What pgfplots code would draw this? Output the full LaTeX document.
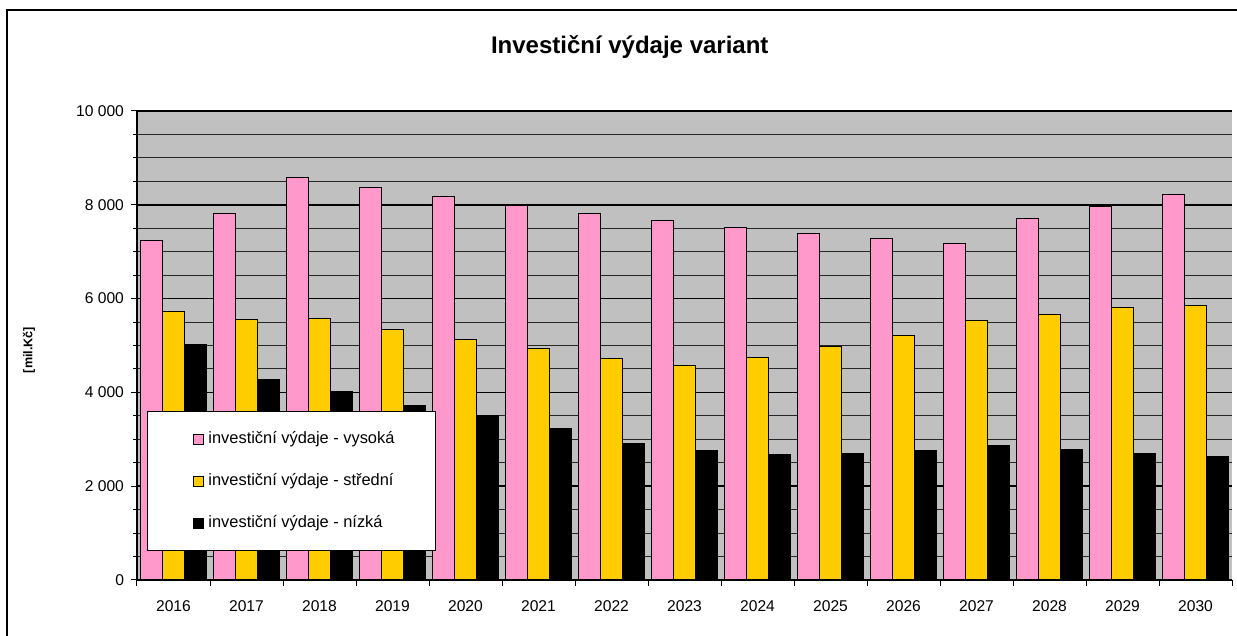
\documentclass[border=0pt]{standalone}
\usepackage{fontspec}
\setmainfont{Liberation Sans}
\usepackage{pgfplots}
\pgfplotsset{compat=1.18}
\usepackage{pgfplotstable}
\definecolor{bgg}{HTML}{C0C0C0}
\definecolor{pinkb}{HTML}{FF99CC}
\definecolor{yelb}{HTML}{FFCC00}
\pgfplotstableread{
x year vys str niz
0 2016 7230 5720 5020
1 2017 7825 5560 4270
2 2018 8590 5580 4010
3 2019 8370 5340 3720
4 2020 8170 5120 3500
5 2021 7980 4930 3240
6 2022 7810 4730 2900
7 2023 7660 4580 2765
8 2024 7520 4740 2685
9 2025 7390 4970 2705
10 2026 7275 5220 2770
11 2027 7170 5525 2865
12 2028 7700 5670 2775
13 2029 7960 5820 2695
14 2030 8225 5845 2625
}\datatable
\begin{document}
\begin{tikzpicture}
\useasboundingbox (-68.5pt,-28pt) rectangle (550pt,290pt);
\draw[black, line width=0.6pt] (-65pt,-60pt) rectangle (580pt,285pt);
\begin{axis}[
  at={(0,0)}, anchor=south west,
  scale only axis,
  width=547.5pt, height=234.5pt,
  xmin=-0.5, xmax=14.5,
  ymin=0, ymax=10000,
  scaled y ticks=false,
  axis lines*=left,
  axis line style={black, line width=0.6pt},
  axis background/.style={fill=bgg},
  xtick={-0.5,0.5,...,14.5},
  xticklabels={2016,2017,2018,2019,2020,2021,2022,2023,2024,2025,2026,2027,2028,2029,2030},
  x tick label as interval,
  ytick={0,2000,...,10000},
  minor y tick num=3,
  tick align=outside,
  major tick length=3pt,
  minor tick length=2pt,
  tick style={black, line width=0.5pt},
  ymajorgrids, yminorgrids,
  major grid style={black, line width=0.75pt},
  minor grid style={black!85, line width=0.5pt},
  tick label style={font=\fontsize{7.8}{9}\selectfont},
  xticklabel style={yshift=-4pt},
  /pgf/number format/.cd, assume math mode=true, 1000 sep={\ },
  /pgfplots/.cd,
  title={Investiční výdaje variant},
  title style={at={(axis description cs:0.450,1.1365)}, anchor=center, yshift=-6pt, font=\bfseries\fontsize{12}{14}\selectfont},
  ylabel={[mil.Kč]},
  ylabel style={at={(axis description cs:-0.0986,0.4904)}, anchor=center, font=\bfseries\fontsize{6.3}{7.5}\selectfont},
  legend style={at={(axis description cs:0.00913,0.3603)}, anchor=north west, draw=black, fill=white,
    line width=0.5pt, font=\fontsize{8.2}{9.6}\selectfont, inner xsep=18.5pt, inner ysep=8pt, row sep=9.5pt,
    cells={anchor=west}},
  legend cell align=left,
  bar width=0.3,
]
\addplot[ybar, bar shift=-0.3, fill=pinkb, draw=black, line width=0.5pt,
  legend image code/.code={\path (-4.5pt,0pt); \draw[fill=pinkb,draw=black,line width=0.5pt] (0pt,-2.5pt) rectangle (5pt,2.5pt);}]
  table[x=x, y=vys] {\datatable};
\addplot[ybar, bar shift=0, fill=yelb, draw=black, line width=0.5pt,
  legend image code/.code={\path (-4.5pt,0pt); \draw[fill=yelb,draw=black,line width=0.5pt] (0pt,-2.5pt) rectangle (5pt,2.5pt);}]
  table[x=x, y=str] {\datatable};
\addplot[ybar, bar shift=0.3, fill=black, draw=black, line width=0.5pt,
  legend image code/.code={\path (-4.5pt,0pt); \draw[fill=black,draw=black,line width=0.5pt] (0pt,-2.5pt) rectangle (5pt,2.5pt);}]
  table[x=x, y=niz] {\datatable};
\legend{investiční výdaje - vysoká, investiční výdaje - střední, investiční výdaje - nízká}
\end{axis}
\end{tikzpicture}
\end{document}
